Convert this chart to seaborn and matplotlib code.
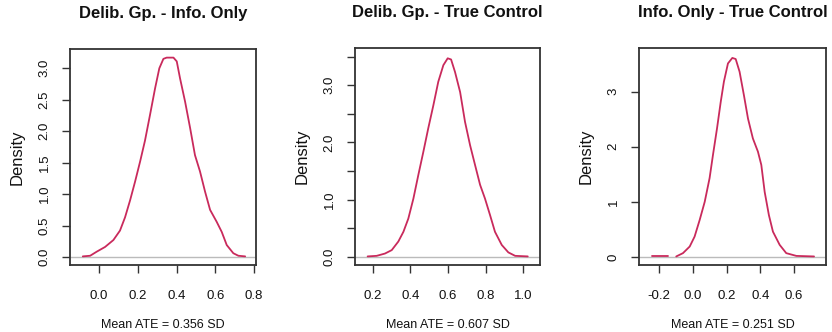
import numpy as np
import matplotlib
matplotlib.use("Agg")
import matplotlib.pyplot as plt
import seaborn as sns

titles = ["Delib. Gp. - Info. Only", "Delib. Gp. - True Control", "Info. Only - True Control"]
xlabels = ["Mean ATE = 0.356 SD", "Mean ATE = 0.607 SD", "Mean ATE = 0.251 SD"]

x1 = [-0.084, -0.046, -0.012, 0.031, 0.074, 0.108, 0.134, 0.16, 0.186, 0.212, 0.237, 0.263,
      0.289, 0.311, 0.332, 0.349, 0.384, 0.401, 0.418, 0.444, 0.47, 0.495, 0.521, 0.547,
      0.573, 0.607, 0.633, 0.659, 0.693, 0.719, 0.754]
d1 = [0.01, 0.02, 0.085, 0.16, 0.27, 0.42, 0.63, 0.90, 1.20, 1.52, 1.85, 2.26,
      2.68, 3.00, 3.15, 3.17, 3.17, 3.11, 2.84, 2.47, 2.05, 1.62, 1.36, 1.04,
      0.75, 0.56, 0.40, 0.19, 0.06, 0.02, 0.01]

x2 = [0.173, 0.221, 0.265, 0.301, 0.336, 0.363, 0.389, 0.416, 0.442, 0.469, 0.495, 0.522,
      0.548, 0.575, 0.598, 0.616, 0.637, 0.664, 0.69, 0.717, 0.743, 0.77, 0.796, 0.823,
      0.849, 0.885, 0.92, 0.956, 1.023]
d2 = [0.01, 0.02, 0.06, 0.12, 0.27, 0.44, 0.67, 1.02, 1.43, 1.84, 2.25, 2.65,
      3.06, 3.35, 3.47, 3.45, 3.23, 2.88, 2.36, 1.95, 1.61, 1.26, 1.02, 0.73,
      0.44, 0.21, 0.08, 0.02, 0.01]

x3 = [-0.243, -0.148, -0.099, -0.059, -0.019, 0.010, 0.040, 0.07, 0.099, 0.119, 0.143, 0.165,
      0.184, 0.208, 0.234, 0.254, 0.277, 0.303, 0.327, 0.356, 0.386, 0.406, 0.426, 0.451,
      0.475, 0.515, 0.554, 0.614, 0.719]
d3 = [0.01, 0.01, 0.01, 0.07, 0.19, 0.37, 0.67, 1.0, 1.43, 1.85, 2.33, 2.81,
      3.18, 3.51, 3.61, 3.59, 3.36, 2.93, 2.51, 2.15, 1.91, 1.67, 1.18, 0.76,
      0.46, 0.22, 0.07, 0.02, 0.01]
seg3 = [0, 0] + [1] * 27

xs = [x1, x2, x3]
ds = [d1, d2, d3]
segs = [[0] * len(x1), [0] * len(x2), seg3]

xticks = [[0.0, 0.2, 0.4, 0.6, 0.8], [0.2, 0.4, 0.6, 0.8, 1.0], [-0.2, 0.0, 0.2, 0.4, 0.6]]
yticks = [[0.0, 0.5, 1.0, 1.5, 2.0, 2.5, 3.0], [0.0, 0.5, 1.0, 1.5, 2.0, 2.5, 3.0, 3.5], [0, 1, 2, 3]]
ylabs = [["0.0", "0.5", "1.0", "1.5", "2.0", "2.5", "3.0"],
         ["0.0", "", "1.0", "", "2.0", "", "3.0", ""],
         ["0", "1", "2", "3"]]
xlims = [(-0.150, 0.810), (0.106, 1.088), (-0.32, 0.79)]
ylims = [(-0.127, 3.307), (-0.14, 3.65), (-0.145, 3.79)]

sns.set_theme(style="white")
plt.rcParams["font.family"] = ["Liberation Sans", "DejaVu Sans"]

W, H = 832, 332
fig = plt.figure(figsize=(W / 100, H / 100), dpi=100)
boxes = [(70, 256, 49, 265), (355, 540, 48, 265), (639, 826, 48, 265)]
col = "#C92A5C"

for i in range(3):
    l, r, t, b = boxes[i]
    ax = fig.add_axes([l / W, 1 - b / H, (r - l) / W, (b - t) / H])
    ax.axhline(0, color="#BBBBBB", lw=1.0, zorder=1)
    sns.lineplot(x=xs[i], y=ds[i], units=segs[i], ax=ax, color=col, lw=1.3,
                 sort=False, estimator=None, zorder=2)
    ax.set_xlim(*xlims[i])
    ax.set_ylim(*ylims[i])
    ax.set_xticks(xticks[i])
    ax.set_xticklabels([f"{v:.1f}" for v in xticks[i]], fontsize=9.5)
    ax.set_yticks(yticks[i])
    ax.set_yticklabels(ylabs[i], fontsize=9.5, rotation=90, va="center")
    ax.tick_params(axis="both", direction="out", length=6, width=1.0, color="#333333",
                   bottom=True, left=True, pad=3, labelcolor="#111111")
    ax.tick_params(axis="x", pad=12)
    ax.tick_params(axis="y", pad=8)
    for s in ax.spines.values():
        s.set_visible(True)
        s.set_color("#333333")
        s.set_linewidth(1.3)
    ax.set_title(titles[i], fontsize=12, fontweight="bold", pad=22, color="#111111")
    ax.set_xlabel(xlabels[i], fontsize=9, labelpad=12, color="#111111")
    ax.set_ylabel("Density", fontsize=12, labelpad=10, color="#111111")
    ax.grid(False)

fig.savefig("out.png", dpi=100)
